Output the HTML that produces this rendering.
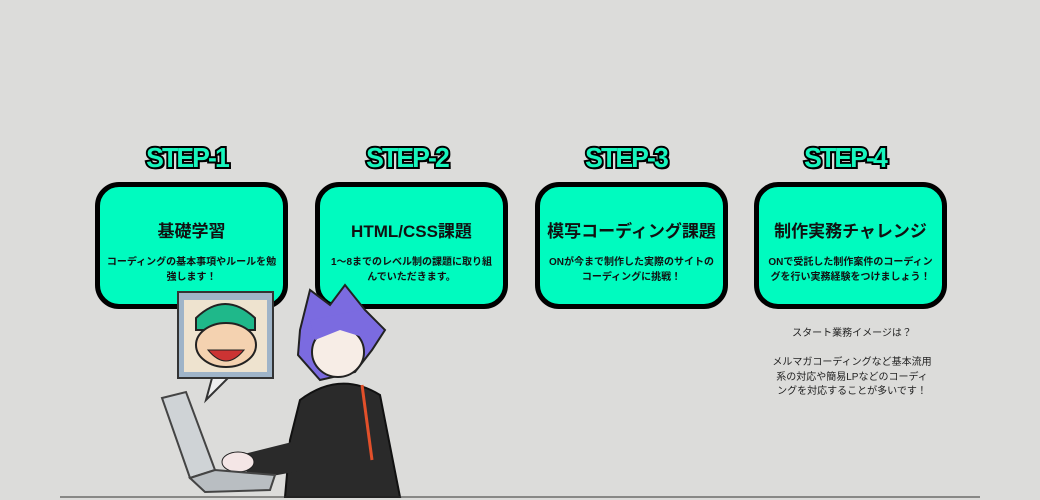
<!DOCTYPE html>
<html><head><meta charset="utf-8"><style>
body{margin:0;width:1040px;height:500px;background:#dcdcda;position:relative;overflow:hidden;font-family:"Liberation Sans","Noto Sans CJK JP",sans-serif;}
.step{position:absolute;top:142px;width:194px;text-align:center;font-weight:900;font-size:28px;color:#17f5bd;letter-spacing:-2px;
-webkit-text-stroke:4px #000;paint-order:stroke fill;text-shadow:2px 2px 0 #000;font-family:"Liberation Sans",sans-serif;transform:scaleX(0.95);}
.box{position:absolute;top:182px;width:183px;height:117px;background:#00fbbf;border:5px solid #000;border-radius:24px;text-align:center;}
.box h3{margin:30px 0 0;font-size:17px;font-weight:bold;color:#111;}
.box p{margin:13px 2px 0;font-size:10px;font-weight:bold;line-height:15px;color:#111;}
.note{position:absolute;left:768px;top:327px;width:168px;text-align:center;font-size:10px;line-height:14.5px;color:#222;}
</style></head><body>
<div class="step" style="left:90px">STEP-1</div>
<div class="step" style="left:310px">STEP-2</div>
<div class="step" style="left:529px">STEP-3</div>
<div class="step" style="left:748px">STEP-4</div>
<div class="box" style="left:95px"><h3>基礎学習</h3><p>コーディングの基本事項やルールを勉<br>強します！</p></div>
<div class="box" style="left:315px"><h3>HTML/CSS課題</h3><p>1〜8までのレベル制の課題に取り組<br>んでいただきます。</p></div>
<div class="box" style="left:535px"><h3>模写コーディング課題</h3><p>ONが今まで制作した実際のサイトの<br>コーディングに挑戦！</p></div>
<div class="box" style="left:754px"><h3>制作実務チャレンジ</h3><p>ONで受託した制作案件のコーディン<br>グを行い実務経験をつけましょう！</p></div>
<div class="note">スタート業務イメージは？<br><br>メルマガコーディングなど基本流用<br>系の対応や簡易LPなどのコーディ<br>ングを対応することが多いです！</div>
<svg style="position:absolute;left:0;top:0" width="1040" height="500">
<rect x="178" y="292" width="95" height="86" fill="#9fb4c8" stroke="#333" stroke-width="2"/>
<rect x="184" y="300" width="83" height="72" fill="#eee3cf"/>
<path d="M196 318 Q225 290 255 318 L255 330 L196 330Z" fill="#1fb88a" stroke="#222" stroke-width="2"/>
<ellipse cx="226" cy="345" rx="30" ry="22" fill="#f4d2b0" stroke="#222" stroke-width="2"/>
<path d="M208 350 Q226 372 244 350Z" fill="#c33" stroke="#222"/>
<path d="M212 378 L206 400 L228 378Z" fill="#eee" stroke="#333" stroke-width="2"/>
<path d="M300 330 L310 290 L330 305 L345 285 L365 310 L385 330 L372 350 L355 372 L320 380 L298 355Z" fill="#7b6be0" stroke="#222" stroke-width="2"/>
<ellipse cx="338" cy="352" rx="26" ry="25" fill="#f7ede6" stroke="#222" stroke-width="2"/>
<path d="M310 320 L360 310 L372 340 L340 330 L315 340Z" fill="#7b6be0"/>
<path d="M300 400 Q340 370 380 395 L400 497 L285 497 L290 440Z" fill="#2a2a2a" stroke="#111" stroke-width="2"/>
<path d="M240 455 L300 440 L305 470 L250 480Z" fill="#2a2a2a"/>
<ellipse cx="238" cy="462" rx="16" ry="10" fill="#f4e6e6" stroke="#222"/>
<line x1="362" y1="385" x2="372" y2="460" stroke="#e2502a" stroke-width="3"/>
<path d="M162 398 L186 392 L215 470 L190 478Z" fill="#cfd3d6" stroke="#444" stroke-width="2"/>
<path d="M190 478 L215 470 L275 475 L270 490 L205 492Z" fill="#b9bec2" stroke="#444" stroke-width="2"/>
<line x1="60" y1="497" x2="980" y2="497" stroke="#333" stroke-width="1"/>
</svg>
</body></html>
